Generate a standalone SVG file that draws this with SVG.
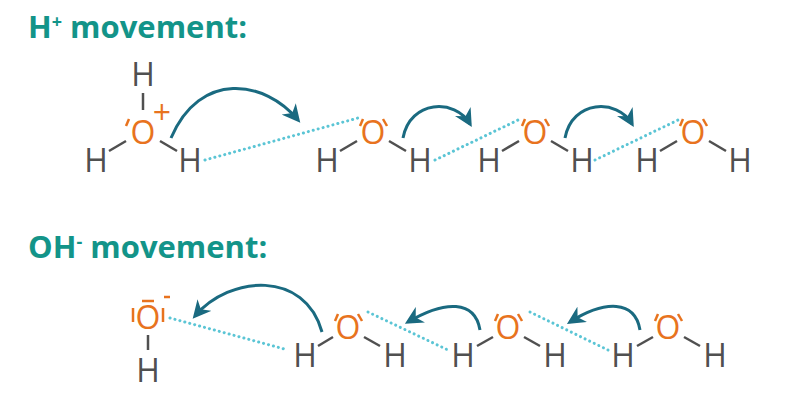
<svg xmlns="http://www.w3.org/2000/svg" width="800" height="400" viewBox="0 0 800 400">
<style>
.t{font-family:"Open Sans","Liberation Sans",sans-serif;font-weight:bold;font-size:31px;fill:#139489}
.h{font-family:"Open Sans","Liberation Sans",sans-serif;font-size:32px;fill:#505050;text-anchor:middle}
.o{font-family:"Open Sans","Liberation Sans",sans-serif;font-size:32px;fill:#e8731e;text-anchor:middle}
.b{stroke:#505050;stroke-width:2.5;fill:none}
.lp{stroke:#e8731e;stroke-width:2.5;fill:none}
.d{stroke:#5bc5d5;stroke-width:3;stroke-dasharray:0.1 5;fill:none;stroke-linecap:round}
.a{stroke:#1a6a80;stroke-width:3;fill:none;marker-end:url(#ah)}
</style>
<defs>
<marker id="ah" viewBox="0 0 10 10" refX="8" refY="5" markerWidth="6" markerHeight="6" orient="auto"><path d="M0,0L10,5L0,10L3,5z" fill="#1a6a80"/></marker>
</defs>
<rect width="800" height="400" fill="#fff"/>
<text class="t" x="28" y="38">H<tspan font-size="18" dy="-10">+</tspan><tspan dy="10"> movement:</tspan></text>
<text class="t" x="28" y="258">OH<tspan font-size="18" dy="-10">-</tspan><tspan dy="10"> movement:</tspan></text>
<g id="hydronium">
<text class="h" x="143" y="86">H</text>
<line class="b" x1="143" y1="93" x2="143" y2="110"/>
<text class="o" x="143" y="144">O</text>
<line class="lp" x1="126" y1="126" x2="129" y2="119"/>
<text class="o" x="162" y="124" font-size="22">+</text>
<text class="h" x="96" y="172">H</text>
<text class="h" x="190" y="172">H</text>
<line class="b" x1="109" y1="151" x2="126" y2="141"/>
<line class="b" x1="160" y1="141" x2="177" y2="151"/>
</g>
<g id="w1">
<text class="o" x="373" y="144">O</text>
<line class="lp" x1="360" y1="126" x2="363" y2="119"/><line class="lp" x1="383" y1="119" x2="387" y2="126"/>
<text class="h" x="327" y="172">H</text><text class="h" x="420" y="172">H</text>
<line class="b" x1="340" y1="151" x2="357" y2="141"/><line class="b" x1="389" y1="141" x2="406" y2="151"/>
</g>
<g id="w2">
<text class="o" x="535" y="144">O</text>
<line class="lp" x1="522" y1="126" x2="525" y2="119"/><line class="lp" x1="545" y1="119" x2="549" y2="126"/>
<text class="h" x="489" y="172">H</text><text class="h" x="582" y="172">H</text>
<line class="b" x1="502" y1="151" x2="519" y2="141"/><line class="b" x1="551" y1="141" x2="568" y2="151"/>
</g>
<g id="w3">
<text class="o" x="693" y="144">O</text>
<line class="lp" x1="680" y1="126" x2="683" y2="119"/><line class="lp" x1="703" y1="119" x2="707" y2="126"/>
<text class="h" x="647" y="172">H</text><text class="h" x="740" y="172">H</text>
<line class="b" x1="660" y1="151" x2="677" y2="141"/><line class="b" x1="709" y1="141" x2="726" y2="151"/>
</g>
<g id="hydroxide">
<text class="o" x="148" y="329">O</text>
<line class="lp" x1="133" y1="308" x2="133" y2="322"/><line class="lp" x1="163" y1="308" x2="163" y2="322"/>
<line class="lp" x1="142" y1="301" x2="154" y2="301"/>
<line class="lp" x1="164" y1="297" x2="170" y2="297"/>
<line class="b" x1="148" y1="335" x2="148" y2="350"/>
<text class="h" x="148" y="382">H</text>
</g>
<g id="w4">
<text class="o" x="348" y="339">O</text>
<line class="lp" x1="335" y1="321" x2="338" y2="314"/><line class="lp" x1="358" y1="314" x2="362" y2="321"/>
<text class="h" x="305" y="367">H</text><text class="h" x="395" y="367">H</text>
<line class="b" x1="318" y1="346" x2="333" y2="337"/><line class="b" x1="364" y1="337" x2="380" y2="346"/>
</g>
<g id="w5">
<text class="o" x="508" y="339">O</text>
<line class="lp" x1="495" y1="321" x2="498" y2="314"/><line class="lp" x1="518" y1="314" x2="522" y2="321"/>
<text class="h" x="463" y="367">H</text><text class="h" x="555" y="367">H</text>
<line class="b" x1="477" y1="346" x2="493" y2="337"/><line class="b" x1="524" y1="337" x2="540" y2="346"/>
</g>
<g id="w6">
<text class="o" x="668" y="339">O</text>
<line class="lp" x1="655" y1="321" x2="658" y2="314"/><line class="lp" x1="678" y1="314" x2="682" y2="321"/>
<text class="h" x="623" y="367">H</text><text class="h" x="715" y="367">H</text>
<line class="b" x1="637" y1="346" x2="653" y2="337"/><line class="b" x1="684" y1="337" x2="700" y2="346"/>
</g>
<g id="connectors">
<line class="d" x1="205" y1="160" x2="358" y2="118"/>
<line class="d" x1="435" y1="160" x2="518" y2="120"/>
<line class="d" x1="595" y1="160" x2="678" y2="120"/>
<path class="a" d="M171,138 C200,70 265,80 298,120"/>
<path class="a" d="M403,138 C410,100 455,98 470,124"/>
<path class="a" d="M565,138 C572,100 617,98 632,124"/>
<line class="d" x1="170" y1="318" x2="288" y2="350"/>
<line class="d" x1="368" y1="312" x2="448" y2="350"/>
<line class="d" x1="530" y1="312" x2="608" y2="350"/>
<path class="a" d="M322,332 C305,270 230,275 195,316"/>
<path class="a" d="M480,330 C475,300 445,300 408,322"/>
<path class="a" d="M640,330 C635,300 605,300 570,322"/>
</g>
</svg>
